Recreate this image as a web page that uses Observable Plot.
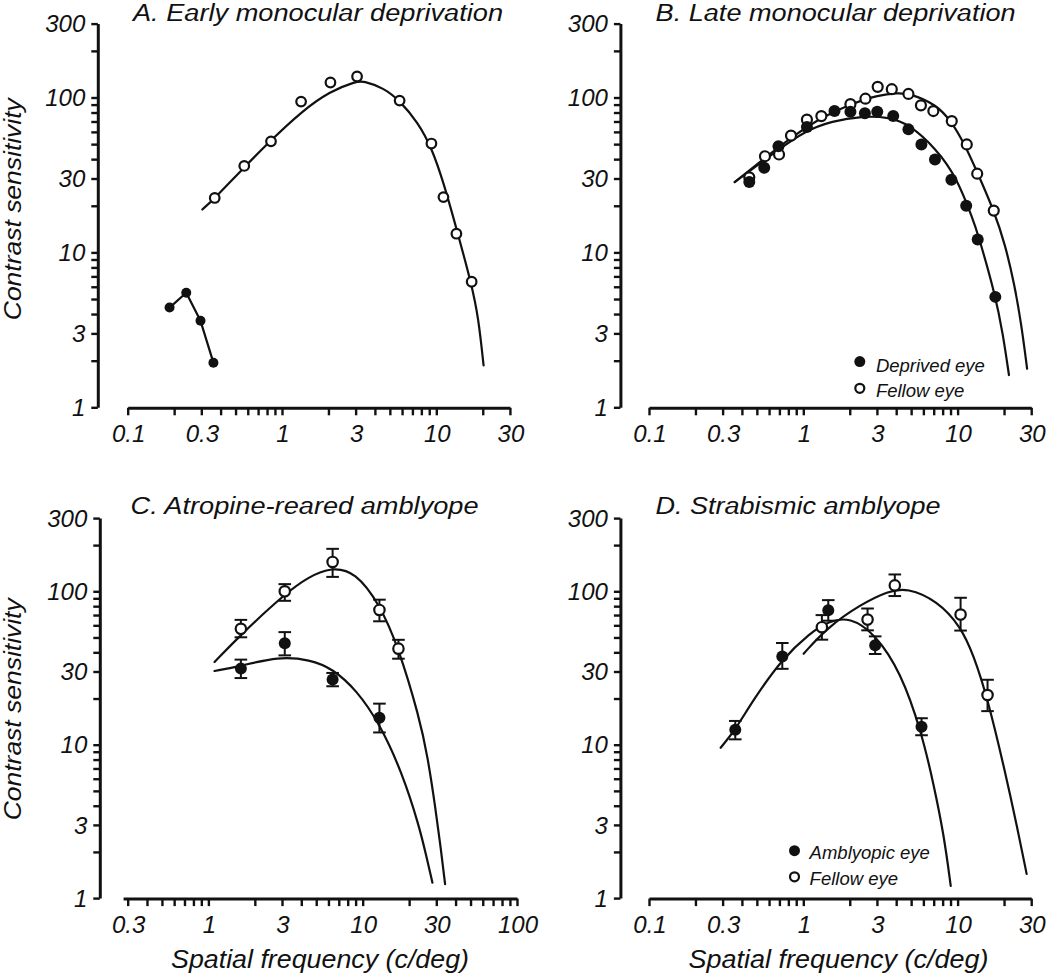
<!DOCTYPE html>
<html><head><meta charset="utf-8">
<script src="https://cdn.jsdelivr.net/npm/d3@7"></script>
<script src="https://cdn.jsdelivr.net/npm/@observablehq/plot@0.6"></script>
<style>
html,body{margin:0;padding:0;background:#fff;}
#root{position:relative;width:1050px;height:977px;overflow:hidden;background:#fff;}
.panel{position:absolute;}
.panel svg{overflow:visible;background:transparent;}
#overlay{position:absolute;left:0;top:0;pointer-events:none;overflow:visible;}
</style></head>
<body><div id="root"></div>
<script>
// ---------------- tick values and labels ----------------
const yTicks = [1,2,3,4,5,6,7,8,9,10,20,30,40,50,60,70,80,90,100,200,300];
const yLabelTicks = [1,3,10,30,100,300];
const yTickLabels = ["1","3","10","30","100","300"];
const xTicksStd = [0.1,0.2,0.3,0.4,0.5,0.6,0.7,0.8,0.9,1,2,3,4,5,6,7,8,9,10,20,30];
const xLabelTicksStd = [0.1,0.3,1,3,10,30];
const xTickLabelsStd = ["0.1","0.3","1","3","10","30"];
const xTicksC = [0.3,0.4,0.5,0.6,0.7,0.8,0.9,1,2,3,4,5,6,7,8,9,10,20,30,40,50,60,70,80,90,100];
const xLabelTicksC = [0.3,1,3,10,30,100];
const xTickLabelsC = ["0.3","1","3","10","30","100"];

// ---------------- text ----------------
const panelTitles = ["A. Early monocular deprivation","B. Late monocular deprivation","C. Atropine-reared amblyope","D. Strabismic amblyope"];
const yAxisTitle = "Contrast sensitivity";
const xAxisTitle = "Spatial frequency (c/deg)";
const legendB = ["Deprived eye","Fellow eye"];
const legendD = ["Amblyopic eye","Fellow eye"];

// ---------------- Panel A ----------------
const aOpenX = [0.361,0.561,0.836,1.31,2.03,3.02,5.70,9.16,10.96,13.3,16.7];
const aOpenY = [22.8,36.7,52.9,95.5,126.9,138.7,96.9,51.2,23.1,13.4,6.56];
const aFilledX = [0.184,0.236,0.292,0.354];
const aFilledY = [4.47,5.57,3.67,1.97];
const aFitX = [0.30,0.36,0.56,0.84,1.31,2.03,3.0,3.3,4.5,5.7,7.5,9.2,11,13.3,16.7,18.5,19.95];
const aFitY = [19.2,22.6,36,54,82,112,129,130,117,97,70,48,28.5,14.5,6.3,3.8,1.89];

// ---------------- Panel B ----------------
const bDepX = [0.44,0.55,0.68,1.04,1.57,1.99,2.47,2.97,3.77,4.73,5.74,7.03,8.98,11.2,13.3,17.3];
const bDepY = [28.9,35.7,49.2,65.4,83,82,80.2,82,77,63.2,50.5,40.4,29.9,20.3,12.3,5.24];
const bFelX = [0.44,0.556,0.686,0.82,1.04,1.29,1.99,2.49,2.99,3.69,4.73,5.70,6.86,9.03,11.3,13.2,16.9];
const bFelY = [31,42.4,43.5,57.6,73,77,91.9,99.7,118.9,114.8,107,90.3,83,71.5,50.5,32.7,18.9];
const bDepFitX = [0.354,0.68,1.01,1.51,2.37,3.55,4.79,7.13,9.64,12.4,13.3,17.3,19.4,21.2];
const bDepFitY = [28.9,46.9,61.7,71.5,77,75.8,68.1,47.5,31.5,16.5,13.5,5.4,3.0,1.64];
const bFelFitX = [0.354,0.556,0.83,1.30,1.99,3.05,4.0,4.79,7.13,9.0,10.9,13.2,16.9,20,23,25.5,27.8];
const bFelFitY = [28.9,41.3,56.4,75.8,91.9,105.4,108.5,108,91.9,71,51,33.5,19,11.5,6.3,3.5,1.8];

// ---------------- Panel C ----------------
const cFelX = [1.60,3.08,6.29,12.65,16.8];
const cFelY = [57.8,101.5,157.7,76.7,42.9];
const cFelLo = [50.9,88,126,64.7,36.9];
const cFelHi = [66.1,113,192,89.5,49];
const cAmbX = [1.60,3.08,6.29,12.65];
const cAmbY = [31.8,46.6,27,15.2];
const cAmbLo = [27.6,38.8,24.4,12.2];
const cAmbHi = [36.4,55,29.8,18.8];
const cFelFitX = [1.08,1.62,3.08,4.38,6.2,8.83,12.65,16.8,22.9,26,29.3,31.5,33.7];
const cFelFitY = [35.1,53.6,97.5,126,146,136,84,43.9,15.4,8.5,3.8,2.2,1.25];
const cAmbFitX = [1.08,1.6,2.79,4.5,6.29,9,12.65,17.8,22.9,25.5,27.9];
const cAmbFitY = [30.7,33,38.2,36.4,31.8,23,14,6.63,2.99,1.9,1.28];

// ---------------- Panel D ----------------
const dAmbX = [0.357,0.72,1.43,2.88,5.75];
const dAmbY = [12.7,38.2,76.4,45.1,13.3];
const dAmbLo = [11.0,31.7,65.3,39.6,11.7];
const dAmbHi = [14.5,46.7,88.9,51.6,15.1];
const dFelX = [1.30,2.57,3.86,10.3,15.4];
const dFelY = [59.2,66.4,110.9,71.6,21.4];
const dFelLo = [49.1,56.5,94.5,56.3,16.8];
const dFelHi = [71,78.4,130.7,92.1,26.9];
const dAmbFitX = [0.287,0.357,0.467,0.72,1.09,1.43,1.98,2.88,4.2,5.75,6.92,8.04,8.89];
const dAmbFitY = [9.7,12.7,19.9,37,54.2,64.8,69,53.5,30.5,12.3,5.5,2.6,1.22];
const dFelFitX = [0.99,1.40,2.31,3.5,4.64,7.28,10.3,12.5,15.4,19.8,24.1,27.6];
const dFelFitY = [39.8,58.6,83.2,102,106.9,88,60,39,20.4,7.1,2.87,1.46];

// ---------------- helpers ----------------
const FONT = '"Liberation Sans", Arial, Helvetica, sans-serif';
const INK = "#111";
const PPD = 154.3; // pixels per decade on the x axis
const NS = "http://www.w3.org/2000/svg";
const rows = (xs, ys) => xs.map((x, i) => ({x, y: ys[i]}));
const errRows = (xs, ys, lo, hi) => xs.map((x, i) => ({x, y: ys[i], lo: lo[i], hi: hi[i]}));
const capSymbol = {draw(ctx, size) { const w = Math.sqrt(size / Math.PI); ctx.moveTo(-w, 0); ctx.lineTo(w, 0); }};

const fitLine = (data) => Plot.line(data, {x: "x", y: "y", curve: "basis", stroke: INK, strokeWidth: 2.2});
const openDots = (data, r = 5) => Plot.dot(data, {x: "x", y: "y", r, fill: "white", stroke: INK, strokeWidth: 2.2});
const filledDots = (data, r = 6) => Plot.dot(data, {x: "x", y: "y", r, fill: INK, stroke: "none"});
const errorBars = (data) => [
  Plot.ruleX(data, {x: "x", y1: "lo", y2: "hi", stroke: INK, strokeWidth: 2}),
  Plot.dot(data, {x: "x", y: "lo", symbol: capSymbol, r: 6.3, fill: "none", stroke: INK, strokeWidth: 2}),
  Plot.dot(data, {x: "x", y: "hi", symbol: capSymbol, r: 6.3, fill: "none", stroke: INK, strokeWidth: 2})
];

const tickJobs = [];

function panel(g, marks) {
  const lo = g.xRef * Math.pow(10, -(g.xRefPx - g.yAxisPx) / PPD);
  const hi = g.xRef * Math.pow(10, (g.width - g.xRefPx) / PPD);
  const xL = g.xLabelTicks.map((v, i) => ({v, s: g.xTickLabels[i]}));
  const yL = yLabelTicks.map((v, i) => ({v, s: yTickLabels[i]}));
  const chart = Plot.plot({
    width: g.width, height: g.height,
    marginLeft: g.yAxisPx, marginRight: 0, marginTop: g.mTop, marginBottom: g.mBottom,
    style: {background: "transparent", overflow: "visible", fontFamily: FONT, fontStyle: "italic", fontSize: "24px", color: INK},
    x: {type: "log", domain: [lo, hi], axis: null},
    y: {type: "log", domain: [1, 300], axis: null},
    marks: [
      // axis lines
      Plot.ruleX([lo], {y1: 1, y2: 300, stroke: INK, strokeWidth: 3}),
      Plot.ruleY([1], {x1: g.axisFrom, x2: g.axisTo, stroke: INK, strokeWidth: 3}),
      // tick labels
      Plot.text(xL, {x: "v", y: () => 1, text: "s", dy: 17, lineAnchor: "top", textAnchor: "middle", fontSize: 24, fill: INK}),
      Plot.text(yL, {y: "v", x: () => lo, text: "s", dx: -13, lineAnchor: "middle", textAnchor: "end", fontSize: 24, fill: INK}),
      ...marks
    ]
  });
  const div = document.createElement("div");
  div.className = "panel";
  div.style.left = g.left + "px";
  div.style.top = g.top + "px";
  div.appendChild(chart);
  document.getElementById("root").appendChild(div);
  // tick marks: positioned through the chart's own x and y scales
  tickJobs.push({g, sx: chart.scale("x"), sy: chart.scale("y"), lo});
}

// ---------------- panels ----------------
panel({left: 0, top: 0, width: 525, height: 450, mTop: 24.1, mBottom: 42.2, yAxisPx: 97.8,
       xRef: 0.1, xRefPx: 128.2, axisFrom: 0.1, axisTo: 30,
       xTicks: xTicksStd, xLabelTicks: xLabelTicksStd, xTickLabels: xTickLabelsStd}, [
  fitLine(rows(aFitX, aFitY)),
  Plot.line(rows(aFilledX, aFilledY), {x: "x", y: "y", stroke: INK, strokeWidth: 2.2}),
  filledDots(rows(aFilledX, aFilledY), 5),
  openDots(rows(aOpenX, aOpenY), 4.8)
]);

panel({left: 525, top: 0, width: 525, height: 450, mTop: 24.1, mBottom: 42.2, yAxisPx: 95.4,
       xRef: 0.1, xRefPx: 124.5, axisFrom: 0.1, axisTo: 30,
       xTicks: xTicksStd, xLabelTicks: xLabelTicksStd, xTickLabels: xTickLabelsStd}, [
  fitLine(rows(bFelFitX, bFelFitY)),
  fitLine(rows(bDepFitX, bDepFitY)),
  openDots(rows(bFelX, bFelY), 5),
  filledDots(rows(bDepX, bDepY), 6)
]);

panel({left: 0, top: 450, width: 525, height: 527, mTop: 68.6, mBottom: 78.4, yAxisPx: 99.8,
       xRef: 0.3, xRefPx: 128.2, axisFrom: 0.28, axisTo: 100,
       xTicks: xTicksC, xLabelTicks: xLabelTicksC, xTickLabels: xTickLabelsC}, [
  fitLine(rows(cFelFitX, cFelFitY)),
  fitLine(rows(cAmbFitX, cAmbFitY)),
  ...errorBars(errRows(cFelX, cFelY, cFelLo, cFelHi)),
  ...errorBars(errRows(cAmbX, cAmbY, cAmbLo, cAmbHi)),
  openDots(rows(cFelX, cFelY), 5.2),
  filledDots(rows(cAmbX, cAmbY), 6)
]);

panel({left: 525, top: 450, width: 525, height: 527, mTop: 68.6, mBottom: 78.4, yAxisPx: 95.4,
       xRef: 0.1, xRefPx: 124.5, axisFrom: 0.1, axisTo: 30,
       xTicks: xTicksStd, xLabelTicks: xLabelTicksStd, xTickLabels: xTickLabelsStd}, [
  fitLine(rows(dFelFitX, dFelFitY)),
  fitLine(rows(dAmbFitX, dAmbFitY)),
  ...errorBars(errRows(dFelX, dFelY, dFelLo, dFelHi)),
  ...errorBars(errRows(dAmbX, dAmbY, dAmbLo, dAmbHi)),
  openDots(rows(dFelX, dFelY), 5.2),
  filledDots(rows(dAmbX, dAmbY), 6)
]);

// ---------------- overlay: ticks, titles, axis titles, legends ----------------
const ov = document.createElementNS(NS, "svg");
ov.setAttribute("id", "overlay");
ov.setAttribute("width", 1050);
ov.setAttribute("height", 977);
document.getElementById("root").appendChild(ov);
function seg(x1, y1, x2, y2, w) {
  const l = document.createElementNS(NS, "line");
  l.setAttribute("x1", x1); l.setAttribute("y1", y1);
  l.setAttribute("x2", x2); l.setAttribute("y2", y2);
  l.setAttribute("stroke", INK); l.setAttribute("stroke-width", w);
  ov.appendChild(l);
}
for (const {g, sx, sy, lo} of tickJobs) {
  const base = g.top + sy.apply(1);
  for (const v of g.xTicks) { const px = g.left + sx.apply(v); seg(px, base, px, base + 7.5, 2.4); }
  const ax = g.left + sx.apply(lo);
  for (const v of yTicks) { const py = g.top + sy.apply(v); seg(ax - 6.5, py, ax, py, 2.4); }
}
function txt(s, x, y, opts = {}) {
  const t = document.createElementNS(NS, "text");
  t.textContent = s;
  t.setAttribute("x", x); t.setAttribute("y", y);
  t.setAttribute("font-family", FONT);
  t.setAttribute("font-style", "italic");
  t.setAttribute("font-size", opts.size || 23);
  t.setAttribute("fill", INK);
  if (opts.anchor) t.setAttribute("text-anchor", opts.anchor);
  if (opts.len) { t.setAttribute("textLength", opts.len); t.setAttribute("lengthAdjust", "spacingAndGlyphs"); }
  if (opts.transform) t.setAttribute("transform", opts.transform);
  ov.appendChild(t);
}
function circ(cx, cy, r, filled) {
  const c = document.createElementNS(NS, "circle");
  c.setAttribute("cx", cx); c.setAttribute("cy", cy); c.setAttribute("r", r);
  c.setAttribute("fill", filled ? INK : "white");
  c.setAttribute("stroke", filled ? "none" : INK);
  c.setAttribute("stroke-width", filled ? 0 : 2.2);
  ov.appendChild(c);
}
// titles
txt(panelTitles[0], 133, 21, {len: 370});
txt(panelTitles[1], 655.6, 21, {len: 360});
txt(panelTitles[2], 130.6, 513.6, {len: 348});
txt(panelTitles[3], 655.6, 513.6, {len: 285});
// y axis titles
txt(yAxisTitle, 0, 0, {anchor: "middle", len: 222, size: 23.5, transform: "translate(20.5,209.2) rotate(-90)"});
txt(yAxisTitle, 0, 0, {anchor: "middle", len: 222, size: 23.5, transform: "translate(20.5,709.3) rotate(-90)"});
// x axis titles
txt(xAxisTitle, 320, 968, {anchor: "middle", len: 298, size: 25});
txt(xAxisTitle, 838.5, 968, {anchor: "middle", len: 300, size: 25});
// legends
circ(859.8, 361.6, 5.5, true);  txt(legendB[0], 875.9, 371.6, {size: 18.5});
circ(859.8, 388.3, 4.5, false); txt(legendB[1], 875.9, 397.4, {size: 18.5});
circ(794.5, 850.7, 5.5, true);  txt(legendD[0], 809.6, 859.1, {size: 18.5});
circ(794.5, 876.8, 4.5, false); txt(legendD[1], 809.6, 885.2, {size: 18.5});
</script>
</body></html>
